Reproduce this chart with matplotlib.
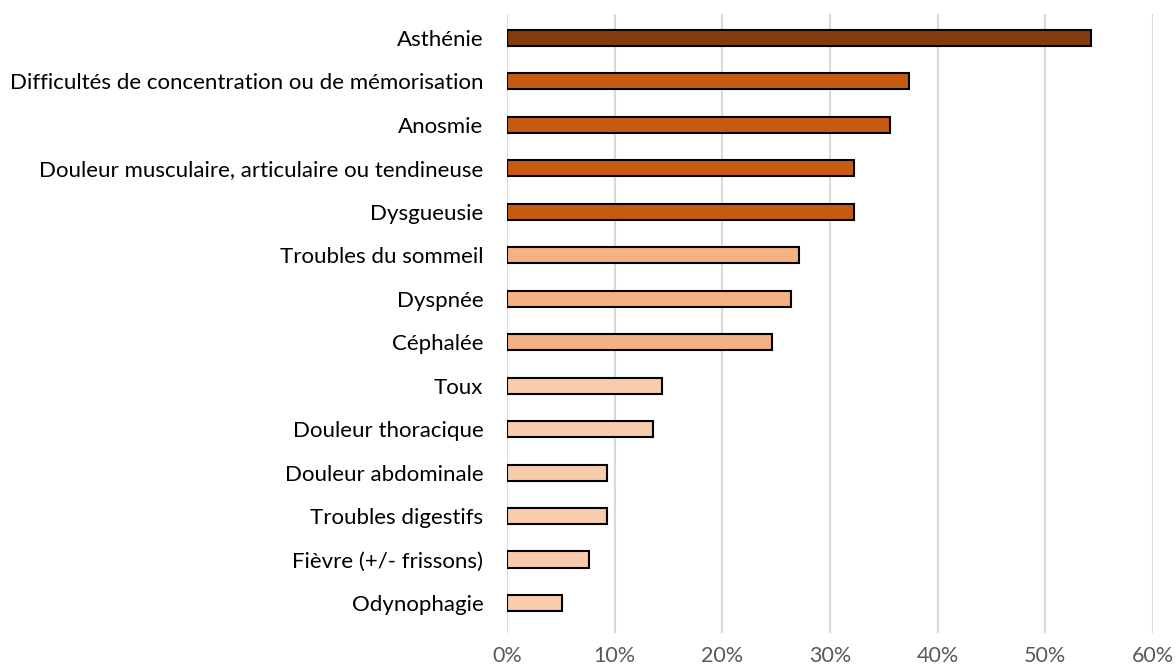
import numpy as np
import matplotlib.pyplot as plt
from matplotlib.ticker import FuncFormatter

plt.rcParams['font.family'] = ['Lato', 'DejaVu Sans']

symptomes = ['Asthénie',
             'Difficultés de concentration ou de mémorisation',
             'Anosmie',
             'Douleur musculaire, articulaire ou tendineuse',
             'Dysgueusie',
             'Troubles du sommeil',
             'Dyspnée',
             'Céphalée',
             'Toux',
             'Douleur thoracique',
             'Douleur abdominale',
             'Troubles digestifs',
             'Fièvre (+/- frissons)',
             'Odynophagie']
valeurs = [54.2, 37.3, 35.6, 32.2, 32.2, 27.1, 26.4, 24.6, 14.4, 13.6, 9.3, 9.3, 7.6, 5.1]
groupes = [0, 1, 1, 1, 1, 2, 2, 2, 3, 3, 3, 3, 3, 3]
palette = ['#843C0C', '#C55A11', '#F4B183', '#F8CBAD']

fig = plt.figure(figsize=(11.76, 6.64), dpi=100)
# plot area: x 507..1153 px, y 14..633 px
ax = fig.add_axes([507 / 1176, 1 - 633 / 664, 646 / 1176, 619 / 664])

y = np.arange(len(symptomes))
couleurs = [palette[g] for g in groupes]
ax.barh(y, valeurs, height=0.37, color=couleurs, edgecolor='black', linewidth=1.5, zorder=3)

ax.set_xlim(0, 60)
ax.set_ylim(13.69, -0.55)
ax.set_xticks(np.arange(0, 61, 10))
ax.xaxis.set_major_formatter(FuncFormatter(lambda v, p: f'{v:.0f}%'))
ax.set_yticks(y)
ax.set_yticklabels(symptomes, fontsize=16, color='black')
ax.tick_params(axis='y', length=0, pad=17)
ax.tick_params(axis='x', length=0, pad=9, labelsize=15.5, labelcolor='#595959')
ax.grid(axis='x', color='#D9D9D9', linewidth=1.5, zorder=0)
for s in ax.spines.values():
    s.set_visible(False)

fig.savefig('out.png', dpi=100)
